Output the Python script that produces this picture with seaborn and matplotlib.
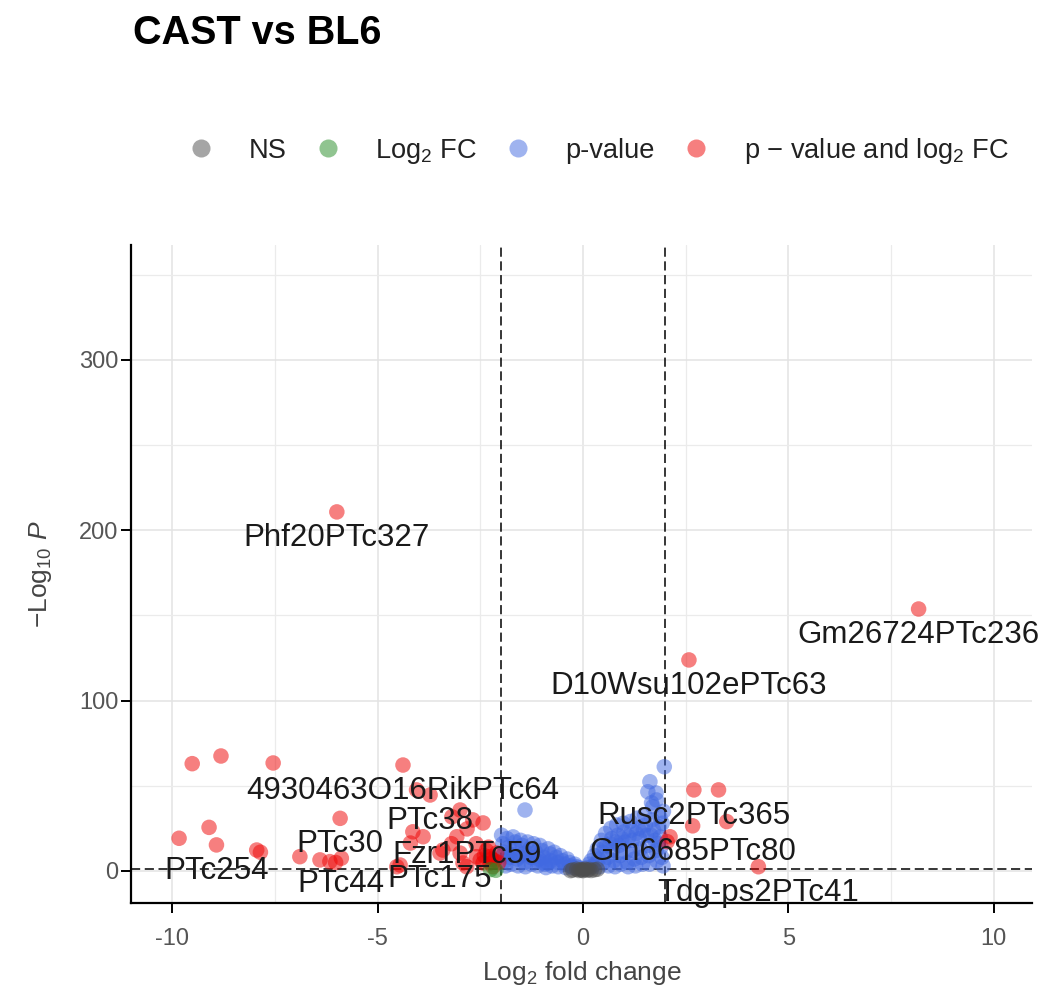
import numpy as np
import pandas as pd
import matplotlib
matplotlib.use("Agg")
import matplotlib.pyplot as plt
from matplotlib.lines import Line2D
import seaborn as sns

# ---- data: log2 fold change and -log10 p for each gene ----
# genes carrying a text label
label_genes = ["Phf20PTc327", "Gm26724PTc236", "D10Wsu102ePTc63",
               "4930463O16RikPTc64", "PTc38", "PTc30", "Fzr1PTc59",
               "PTc254", "PTc44", "PTc175", "Rusc2PTc365", "Gm6685PTc80",
               "Tdg-ps2PTc41"]
label_fc = [-5.99, 8.17, 2.58, -4.38, -3.72, -5.91, -2.82,
            -8.92, -5.88, -3.48, 2.70, 2.67, 4.27]
label_nlp = [210.8, 153.8, 123.9, 62.2, 44.6, 30.9, 24.7,
             15.3, 7.5, 10.5, 47.6, 26.5, 2.5]

# remaining significant down-regulated genes
down_fc = [-9.51, -8.81, -7.54, -4.05, -2.99, -3.19, -2.43, -2.68, -4.14,
           -3.89, -3.07, -3.41, -2.99, -2.59, -2.26, -4.45, -2.83, -2.43,
           -2.19, -2.10, -4.20, -2.92, -2.50, -2.26, -9.83, -9.10, -7.94,
           -7.85, -6.89, -6.40, -6.16, -6.02, -4.53, -2.35, -2.15, -3.20,
           -2.60, -2.30, -2.22, -2.40, -2.05]
down_nlp = [63.0, 67.5, 63.4, 47.6, 35.8, 31.8, 28.2, 30.0, 23.0,
            20.1, 20.1, 12.3, 10.5, 8.4, 8.4, 3.5, 2.5, 4.7,
            2.5, 10.5, 16.4, 4.7, 6.5, 4.7, 19.2, 25.6, 12.3,
            11.0, 8.4, 6.5, 5.5, 5.0, 2.5, 12.0, 6.0, 16.0,
            16.0, 14.0, 7.0, 9.0, 5.0]

# remaining significant up-regulated genes
up_fc = [3.30, 3.50, 2.12, 2.05]
up_nlp = [47.6, 29.0, 20.1, 17.2]

# genes passing only the p-value cut-off
pval_fc = [-1.98, -1.95, -1.92, -1.90, -1.88, -1.85, -1.80, -1.78, -1.75,
           -1.70, -1.65, -1.62, -1.60, -1.58, -1.52, -1.48, -1.45, -1.42,
           -1.40, -1.35, -1.30, -1.28, -1.25, -1.41, -1.20, -1.15, -1.12,
           -1.10, -1.05, -1.00, -0.95, -0.92, -0.90, -0.85, -0.80, -0.78,
           -0.75, -0.70, -0.65, -0.62, -0.60, -0.55, -0.50, -0.45, -0.42,
           -0.38, -0.33, -0.30, -0.25, -0.20, -0.15, -0.10,
           0.10, 0.15, 0.20, 0.22, 0.28, 0.30, 0.35, 0.38, 0.40,
           0.45, 0.48, 0.50, 0.55, 0.58, 0.60, 0.62, 0.68, 0.70,
           0.72, 0.75, 0.78, 0.82, 0.85, 0.88, 0.90, 0.92, 0.98,
           1.00, 1.02, 1.05, 1.08, 1.10, 1.15, 1.18, 1.20, 1.22,
           1.25, 1.28, 1.32, 1.35, 1.38, 1.40, 1.42, 1.45, 1.50,
           1.52, 1.55, 1.58, 1.60, 1.62, 1.58, 1.63, 1.67, 1.70,
           1.78, 1.79, 1.87, 1.98, 1.68, 1.72, 1.75, 1.78, 1.80,
           1.85, 1.88, 1.90, 1.92, 1.95, 1.96, 1.93,
           -1.96, -1.82, -1.68, -1.55, -1.38, -1.22, -1.08, -0.98, -0.86,
           0.52, 0.66, 0.80, 0.95, 1.12, 1.30, 1.47, 1.65, 1.83]
pval_nlp = [21.0, 16.0, 11.0, 6.0, 3.0, 19.0, 14.0, 8.0, 4.0,
            20.0, 17.0, 12.0, 7.0, 3.0, 18.0, 15.0, 10.0, 5.0,
            2.5, 17.0, 13.0, 8.0, 4.0, 35.8, 16.0, 11.0, 6.0,
            3.0, 15.0, 12.0, 8.0, 4.0, 2.0, 13.0, 10.0, 6.0,
            3.0, 11.0, 8.0, 5.0, 2.5, 9.0, 6.0, 4.0, 2.0,
            7.0, 5.0, 3.0, 2.0, 4.0, 2.5, 1.8,
            2.0, 4.0, 6.0, 2.5, 9.0, 4.0, 13.0, 7.0, 2.5,
            18.0, 11.0, 5.0, 22.0, 15.0, 8.0, 3.0, 25.0, 19.0,
            12.0, 6.0, 2.5, 27.0, 21.0, 15.0, 9.0, 4.0, 28.0,
            23.0, 17.0, 11.0, 5.0, 2.5, 29.0, 24.0, 18.0, 12.0,
            7.0, 3.0, 31.0, 25.0, 19.0, 13.0, 8.0, 4.0, 33.0,
            27.0, 21.0, 15.0, 9.0, 4.0, 46.5, 52.4, 40.0, 37.8,
            45.8, 41.7, 31.8, 61.2, 30.0, 24.0, 18.0, 12.0, 6.0,
            26.0, 20.0, 14.0, 8.0, 3.0, 35.0, 28.0,
            9.0, 10.0, 9.5, 8.5, 11.0, 8.0, 7.0, 5.0, 4.5,
            14.0, 16.0, 17.0, 19.0, 20.0, 22.0, 24.0, 21.0, 16.0]

# genes passing only the fold-change cut-off
fc_only_fc = [-2.25, -2.12]
fc_only_nlp = [0.8, 0.4]

# genes passing neither cut-off
ns_fc = [-0.30, -0.25, -0.15, -0.10, -0.05, 0.00, 0.00, 0.05, 0.10, 0.15,
         0.20, 0.28, 0.35]
ns_nlp = [0.2, 0.6, 1.0, 0.3, 0.8, 0.2, 0.6, 1.1, 0.5, 0.9,
          0.3, 0.7, 1.0]

fc_cut = 2.0
p_cut = 0.05

categories = ["NS", "Log2 FC", "p-value", "p - value and log2 FC"]
legend_text = ["NS", r"Log$_{2}$ FC", "p-value", r"p $-$ value and log$_{2}$ FC"]
palette = {"NS": "#4D4D4D", "Log2 FC": "#228B22",
           "p-value": "#4169E1", "p - value and log2 FC": "#EE0000"}

fc_all = label_fc + down_fc + up_fc + pval_fc + fc_only_fc + ns_fc
nlp_all = label_nlp + down_nlp + up_nlp + pval_nlp + fc_only_nlp + ns_nlp
df = pd.DataFrame({"log2FC": fc_all, "nlogp": nlp_all})
y_cut = -np.log10(p_cut)


def classify(row):
    big = abs(row.log2FC) > fc_cut
    sig = row.nlogp > y_cut
    if big and sig:
        return categories[3]
    if sig:
        return categories[2]
    if big:
        return categories[1]
    return categories[0]


df["group"] = df.apply(classify, axis=1)
draw_order = {categories[2]: 0, categories[3]: 1, categories[1]: 2, categories[0]: 3}
df["order"] = df["group"].map(draw_order)
df = df.sort_values("order", kind="stable")

# ---- styling ----
sns.set_theme(style="white")
plt.rcParams["font.family"] = ["Liberation Sans", "DejaVu Sans"]
plt.rcParams["mathtext.fontset"] = "custom"
plt.rcParams["mathtext.rm"] = "Liberation Sans"
plt.rcParams["mathtext.it"] = "Liberation Sans:italic"
plt.rcParams["mathtext.bf"] = "Liberation Sans:bold"
plt.rcParams["axes.unicode_minus"] = False

fig = plt.figure(figsize=(10.43, 9.93), dpi=100)
ax = fig.add_axes([131 / 1043, 1 - 903 / 993, (1032 - 131) / 1043, (903 - 245) / 993])

ax.set_xlim(-11.0, 10.93)
ax.set_ylim(-18.8, 367.5)

# grid
ax.set_xticks([-10, -5, 0, 5, 10])
ax.set_yticks([0, 100, 200, 300])
ax.set_xticks([-7.5, -2.5, 2.5, 7.5], minor=True)
ax.set_yticks([50, 150, 250, 350], minor=True)
ax.grid(which="major", color="#E3E3E3", linewidth=1.1)
ax.grid(which="minor", color="#EBEBEB", linewidth=0.9)
ax.set_axisbelow(True)

sns.scatterplot(data=df, x="log2FC", y="nlogp", hue="group", palette=palette,
                hue_order=categories, s=125, alpha=0.5, linewidth=0,
                legend=False, ax=ax, zorder=3)

# cut-off lines
dash = (0, (6, 3))
for v in (-fc_cut, fc_cut):
    ax.axvline(v, color="black", linewidth=1.1, linestyle=dash, zorder=2)
ax.axhline(y_cut, color="black", linewidth=1.1, linestyle=dash, zorder=2)

# gene labels under their points
for g, x, y in zip(label_genes, label_fc, label_nlp):
    ax.annotate(g, (x, y), xytext=(0, -26), textcoords="offset pixels",
                ha="center", va="center", fontsize=22.5, color="#1A1A1A",
                zorder=5, annotation_clip=False, clip_on=False)

# axes frame
for side in ("top", "right"):
    ax.spines[side].set_visible(False)
for side in ("left", "bottom"):
    ax.spines[side].set_color("black")
    ax.spines[side].set_linewidth(1.6)
ax.tick_params(which="major", direction="out", length=7, width=1.4,
               color="black", labelsize=17, labelcolor="#555555",
               left=True, bottom=True)
ax.tick_params(axis="y", which="major", pad=2)
ax.tick_params(axis="x", which="major", pad=11)
ax.tick_params(which="minor", length=0)

ax.set_xlabel(r"Log$_{2}$ fold change", fontsize=19, color="#444444")
ax.set_ylabel(r"$-$Log$_{10}$ $\mathit{P}$", fontsize=19, color="#444444")
ax.xaxis.set_label_coords(0.5, -0.085)
ax.yaxis.set_label_coords(-0.085, 0.5)

fig.text(133 / 1043, 1 - 44 / 993, "CAST vs BL6", fontsize=28.5,
         fontweight="bold", color="black", ha="left", va="baseline")

handles = [Line2D([0], [0], marker="o", linestyle="", markersize=13,
                  markerfacecolor=palette[c], markeredgewidth=0, alpha=0.5)
           for c in categories]
fig.legend(handles, legend_text, loc="center", ncol=4,
           bbox_to_anchor=(598 / 1043, 1 - 151 / 993), frameon=False,
           fontsize=19.6, handlelength=1.0, handletextpad=1.25,
           columnspacing=1.0, labelcolor="#222222")

fig.savefig("out.png", dpi=100, facecolor="white")
